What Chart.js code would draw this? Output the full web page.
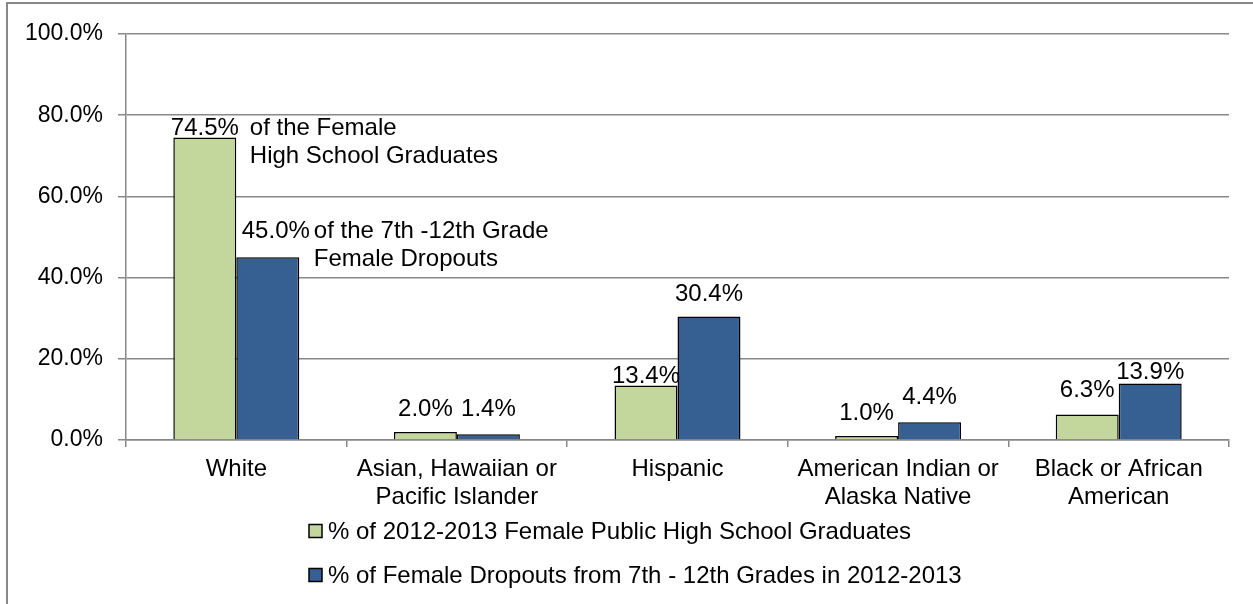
<!DOCTYPE html>
<html>
<head>
<meta charset="utf-8">
<script src="https://cdn.jsdelivr.net/npm/chart.js@4"></script>
<style>
  html, body { margin: 0; padding: 0; background: #fff; }
  canvas { display: block; }
</style>
</head>
<body>
<canvas id="chart" width="1253" height="604"></canvas>
<script>
'use strict';

var categories = [
  'White',
  ['Asian, Hawaiian or', 'Pacific Islander'],
  'Hispanic',
  ['American Indian or', 'Alaska Native'],
  ['Black or African', 'American']
];
var seriesNames = [
  '% of 2012-2013 Female Public High School Graduates',
  '% of Female Dropouts from 7th - 12th Grades in 2012-2013'
];
var graduates = [74.5, 2.0, 13.4, 1.0, 6.3];
var dropouts = [45.0, 1.4, 30.4, 4.4, 13.9];
var yTicks = [0, 20, 40, 60, 80, 100];

var FONT = '"Liberation Sans", Arial, sans-serif';
var FSIZE = 24;
var GRID = '#888888';

// distance between bar top and label baseline (label placement as in the original)
var labelGap = [
  [3, 16, 3, 16, 17],
  [19, 18, 16, 18, 5]
];
var labelShift = [
  [0, 0, 0, 0, 0],
  [8, 0, 0, 0, 0]
];
var notes = [
  { ds: 0, idx: 0, dx: 11, lines: ['of the Female', 'High School Graduates'] },
  { ds: 1, idx: 0, dx: 4, lines: ['of the 7th -12th Grade', 'Female Dropouts'] }
];

var labelsPlugin = {
  id: 'labelsPlugin',
  beforeDraw: function(chart) {
    var c = chart.ctx;
    c.save();
    c.strokeStyle = GRID;
    c.lineWidth = 2;
    c.strokeRect(7, 3, 1400, 800);
    c.restore();
  },
  afterDatasetsDraw: function(chart) {
    var c = chart.ctx;
    c.save();
    c.font = FSIZE + 'px ' + FONT;
    c.fillStyle = '#000';
    c.textBaseline = 'alphabetic';
    var ends = {};
    chart.data.datasets.forEach(function(ds, d) {
      chart.getDatasetMeta(d).data.forEach(function(bar, i) {
        var txt = ds.data[i].toFixed(1) + '%';
        var w = c.measureText(txt).width;
        var x = bar.x + labelShift[d][i];
        var y = bar.y - labelGap[d][i];
        c.textAlign = 'center';
        c.fillText(txt, x, y);
        ends[d + '_' + i] = { x: x + w / 2, y: y };
      });
    });
    notes.forEach(function(n) {
      var e = ends[n.ds + '_' + n.idx];
      c.textAlign = 'left';
      n.lines.forEach(function(line, k) {
        c.fillText(line, e.x + n.dx, e.y + k * 28);
      });
    });

    // legend, stacked and left aligned
    var ly = [531, 575];
    chart.data.datasets.forEach(function(ds, d) {
      c.fillStyle = ds.backgroundColor;
      c.fillRect(309, ly[d] - 6.5, 13, 13);
      c.strokeStyle = '#000';
      c.lineWidth = 1.5;
      c.strokeRect(309, ly[d] - 6.5, 13, 13);
      c.fillStyle = '#000';
      c.textAlign = 'left';
      c.textBaseline = 'middle';
      c.fillText(ds.label, 328, ly[d] + 1);
    });
    c.restore();
  }
};

var ctx = document.getElementById('chart');
var chart = new Chart(ctx, {
  type: 'bar',
  data: {
    labels: categories,
    datasets: [{
        label: seriesNames[0],
        data: graduates,
        backgroundColor: '#C3D69B',
        borderColor: '#000',
        borderWidth: 1.5
      },
      {
        label: seriesNames[1],
        data: dropouts,
        backgroundColor: '#376092',
        borderColor: '#000',
        borderWidth: 1.5
      }
    ]
  },
  options: {
    responsive: false,
    animation: false,
    devicePixelRatio: 1,
    categoryPercentage: 0.571,
    barPercentage: 1.0,
    layout: {
      padding: { left: 0, right: 24, top: 34, bottom: 0 }
    },
    plugins: {
      legend: { display: false },
      tooltip: { enabled: false }
    },
    scales: {
      x: {
        grid: {
          display: true,
          drawOnChartArea: false,
          drawTicks: true,
          tickLength: 7,
          color: GRID,
          lineWidth: 1.5
        },
        border: { display: true, color: GRID, width: 1.5 },
        ticks: {
          color: '#000',
          font: { family: FONT, size: FSIZE, lineHeight: '28px' },
          padding: 8,
          maxRotation: 0,
          autoSkip: false
        },
        afterFit: function(s) { s.height = 164; }
      },
      y: {
        min: 0,
        max: 100,
        afterBuildTicks: function(s) {
          s.ticks = yTicks.map(function(v) { return { value: v }; });
        },
        grid: {
          color: GRID,
          lineWidth: 1.5,
          tickLength: 8
        },
        border: { display: true, color: GRID, width: 1.5 },
        ticks: {
          color: '#000',
          font: { family: FONT, size: 23 },
          padding: 15,
          callback: function(v) { return v.toFixed(1) + '%'; }
        },
        afterFit: function(s) { s.width = 126; }
      }
    }
  },
  plugins: [labelsPlugin]
});
</script>
</body>
</html>
